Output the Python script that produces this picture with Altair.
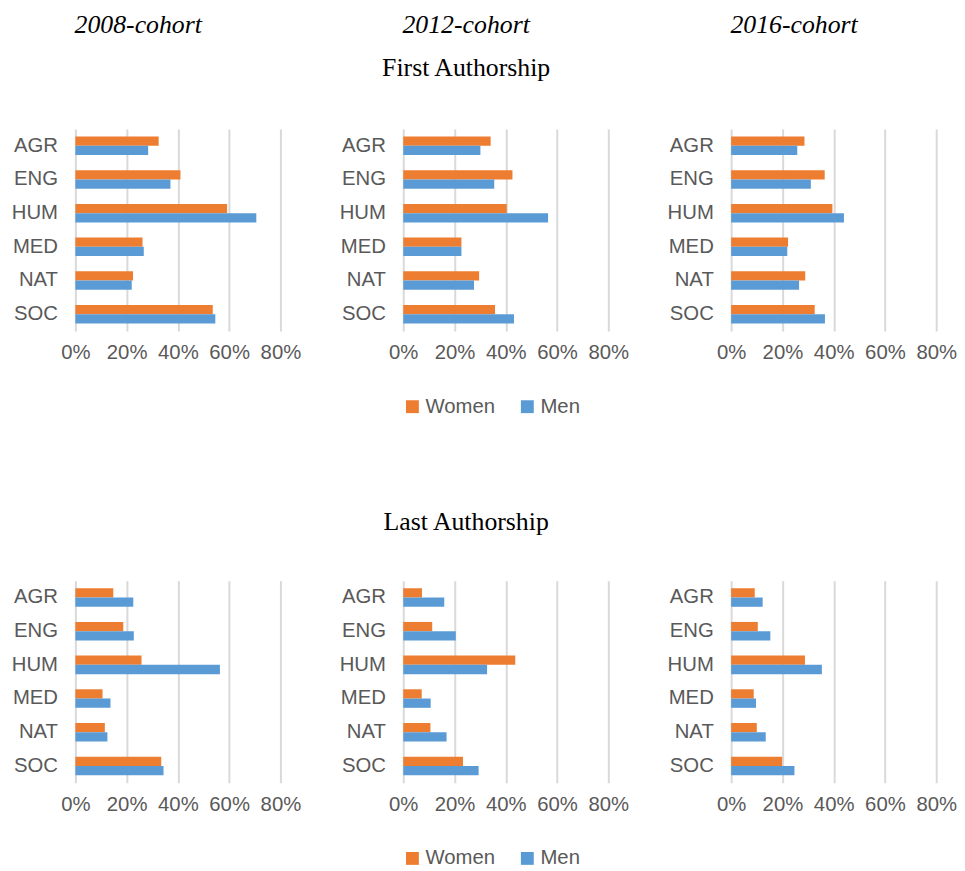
import altair as alt
import pandas as pd

fields = ["AGR", "ENG", "HUM", "MED", "NAT", "SOC"]
genders = ["Women", "Men"]
cohorts = ["2008-cohort", "2012-cohort", "2016-cohort"]
x_ticks = [0, 20, 40, 60, 80]

first_2008_women = [32.5, 41.0, 59.2, 26.2, 22.5, 53.6]
first_2008_men = [28.4, 37.1, 70.6, 26.7, 22.0, 54.6]
first_2012_women = [34.1, 42.6, 40.4, 22.7, 29.6, 35.8]
first_2012_men = [30.1, 35.5, 56.5, 22.7, 27.6, 43.2]
first_2016_women = [28.6, 36.5, 39.5, 22.2, 28.9, 32.6]
first_2016_men = [25.8, 31.1, 44.0, 21.9, 26.5, 36.6]

last_2008_women = [14.8, 18.7, 25.8, 10.6, 11.5, 33.5]
last_2008_men = [22.6, 22.8, 56.4, 13.7, 12.5, 34.4]
last_2012_women = [7.3, 11.3, 43.7, 7.2, 10.6, 23.3]
last_2012_men = [16.0, 20.5, 32.7, 10.7, 16.9, 29.4]
last_2016_women = [9.2, 10.4, 28.8, 8.8, 10.0, 19.9]
last_2016_men = [12.3, 15.3, 35.4, 9.7, 13.5, 24.7]

series = {
    ("First", "2008-cohort"): (first_2008_women, first_2008_men),
    ("First", "2012-cohort"): (first_2012_women, first_2012_men),
    ("First", "2016-cohort"): (first_2016_women, first_2016_men),
    ("Last", "2008-cohort"): (last_2008_women, last_2008_men),
    ("Last", "2012-cohort"): (last_2012_women, last_2012_men),
    ("Last", "2016-cohort"): (last_2016_women, last_2016_men),
}

GRAY = "#595959"
SANS = "Liberation Sans"
SERIF = "Liberation Serif"


def make_df(key):
    women, men = series[key]
    rows = []
    for f, w, m in zip(fields, women, men):
        rows.append({"field": f, "gender": "Women", "value": w})
        rows.append({"field": f, "gender": "Men", "value": m})
    return pd.DataFrame(rows)


def panel(key, title=None, legend_y=None):
    df = make_df(key)
    if legend_y is None:
        legend = None
    else:
        legend = alt.Legend(
            orient="none", legendX=-1, legendY=legend_y, direction="horizontal",
            title=None, symbolType="square", symbolSize=169, symbolStrokeWidth=0,
            labelFont=SANS, labelFontSize=20.5, labelColor=GRAY,
            labelOffset=3, columnPadding=22, padding=0,
        )
    ch = alt.Chart(df).mark_bar().encode(
        x=alt.X("value:Q", scale=alt.Scale(domain=[0, 80], nice=False),
                axis=alt.Axis(values=x_ticks, labelExpr="datum.value + '%'", title=None,
                              ticks=False, domain=False, grid=True, gridColor="#D9D9D9",
                              gridWidth=2, labelFont=SANS, labelFontSize=20.5,
                              labelColor=GRAY, labelPadding=12, labelOverlap=False,
                              labelFlush=False)),
        y=alt.Y("field:N", sort=fields,
                scale=alt.Scale(paddingInner=0.45, paddingOuter=0.225),
                axis=alt.Axis(title=None, ticks=False, domain=False, labelFont=SANS,
                              labelFontSize=20.5, labelColor=GRAY, labelPadding=18)),
        yOffset=alt.YOffset("gender:N", sort=genders, scale=alt.Scale(paddingInner=0, paddingOuter=0)),
        color=alt.Color("gender:N", sort=genders,
                        scale=alt.Scale(domain=genders, range=["#ED7D31", "#5B9BD5"]),
                        legend=legend),
    ).properties(width=207, height=204)
    if title is not None:
        ch = ch.properties(title=title)
    return ch


def side_title(text, offset):
    return alt.TitleParams(text=text, font=SERIF, fontSize=26, fontStyle="italic",
                           fontWeight="normal", color="black", anchor="middle",
                           frame="group", dx=-40, offset=offset)


top = alt.hconcat(
    panel(("First", "2008-cohort"), side_title("2008-cohort", 92)),
    panel(("First", "2012-cohort"), alt.TitleParams(
        text="2012-cohort", subtitle="First Authorship", font=SERIF, fontSize=26,
        fontStyle="italic", fontWeight="normal", color="black",
        subtitleFont=SERIF, subtitleFontSize=26, subtitleColor="black",
        subtitlePadding=18, anchor="middle", frame="group", dx=-40, offset=48),
        legend_y=270),
    panel(("First", "2016-cohort"), side_title("2016-cohort", 92)),
    spacing=38,
).resolve_legend(color="independent")

bottom = alt.hconcat(
    panel(("Last", "2008-cohort")),
    panel(("Last", "2012-cohort"), alt.TitleParams(
        text="Last Authorship", font=SERIF, fontSize=26, fontStyle="normal",
        fontWeight="normal", color="black", anchor="middle", frame="group",
        dx=-40, offset=46), legend_y=270),
    panel(("Last", "2016-cohort")),
    spacing=38,
).resolve_legend(color="independent")

chart = alt.vconcat(top, bottom, spacing=93).resolve_legend(color="independent").properties(
    padding={"left": 3, "top": 0, "right": 0, "bottom": 0}, background="white"
).configure_view(strokeWidth=0, stroke="transparent")

chart.save("out.html", embed_options={"renderer": "svg", "actions": False})
